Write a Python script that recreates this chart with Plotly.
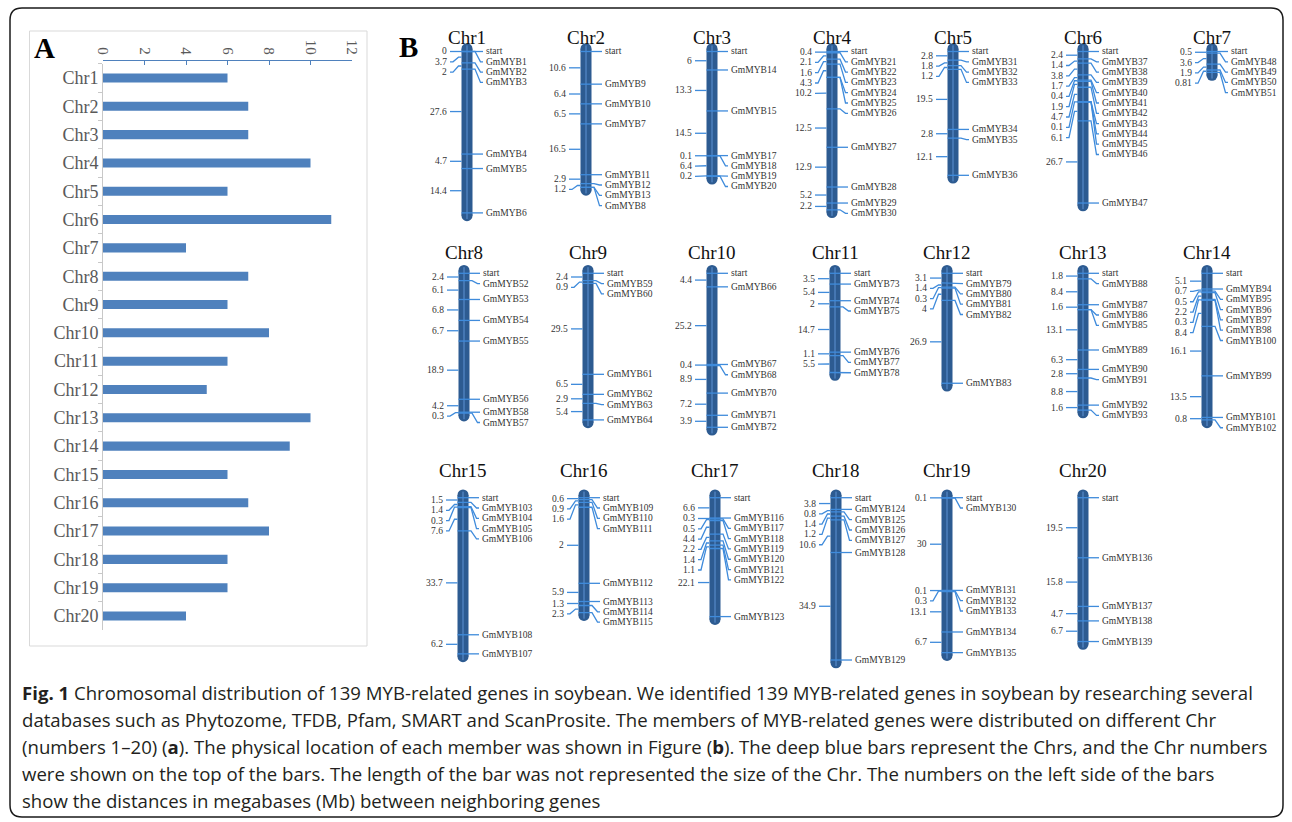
import plotly.graph_objects as go

W, H = 1292, 822

# ---------------- Panel A data ----------------
chr_labels = ["Chr1", "Chr2", "Chr3", "Chr4", "Chr5", "Chr6", "Chr7", "Chr8", "Chr9", "Chr10",
              "Chr11", "Chr12", "Chr13", "Chr14", "Chr15", "Chr16", "Chr17", "Chr18", "Chr19", "Chr20"]
gene_counts = [6, 7, 7, 10, 6, 11, 4, 7, 6, 8, 6, 5, 10, 9, 6, 7, 8, 6, 6, 4]
count_ticks = [0, 2, 4, 6, 8, 10, 12]

# ---------------- Panel B data ----------------
# genes in map order; dist = Mb from previous gene (or start); None = same position, no label
chr1_genes = ["GmMYB1", "GmMYB2", "GmMYB3", "GmMYB4", "GmMYB5", "GmMYB6"]
chr1_dist = [0, 3.7, 2, 27.6, 4.7, 14.4]
chr2_genes = ["GmMYB9", "GmMYB10", "GmMYB7", "GmMYB11", "GmMYB12", "GmMYB13", "GmMYB8"]
chr2_dist = [10.6, 6.4, 6.5, 16.5, 2.9, 1.2, None]
chr3_genes = ["GmMYB14", "GmMYB15", "GmMYB17", "GmMYB18", "GmMYB19", "GmMYB20"]
chr3_dist = [6, 13.3, 14.5, 0.1, 6.4, 0.2]
chr4_genes = ["GmMYB21", "GmMYB22", "GmMYB23", "GmMYB24", "GmMYB25", "GmMYB26", "GmMYB27",
              "GmMYB28", "GmMYB29", "GmMYB30"]
chr4_dist = [0.4, 2.1, 1.6, 4.3, None, 10.2, 12.5, 12.9, 5.2, 2.2]
chr5_genes = ["GmMYB31", "GmMYB32", "GmMYB33", "GmMYB34", "GmMYB35", "GmMYB36"]
chr5_dist = [2.8, 1.8, 1.2, 19.5, 2.8, 12.1]
chr6_genes = ["GmMYB37", "GmMYB38", "GmMYB39", "GmMYB40", "GmMYB41", "GmMYB42", "GmMYB43",
              "GmMYB44", "GmMYB45", "GmMYB46", "GmMYB47"]
chr6_dist = [2.4, 1.4, 3.8, 1.7, 0.4, 1.9, 4.7, 0.1, None, 6.1, 26.7]
chr7_genes = ["GmMYB48", "GmMYB49", "GmMYB50", "GmMYB51"]
chr7_dist = [0.5, 3.6, 1.9, 0.81]
chr8_genes = ["GmMYB52", "GmMYB53", "GmMYB54", "GmMYB55", "GmMYB56", "GmMYB58", "GmMYB57"]
chr8_dist = [2.4, 6.1, 6.8, 6.7, 18.9, 4.2, 0.3]
chr9_genes = ["GmMYB59", "GmMYB60", "GmMYB61", "GmMYB62", "GmMYB63", "GmMYB64"]
chr9_dist = [2.4, 0.9, 29.5, 6.5, 2.9, 5.4]
chr10_genes = ["GmMYB66", "GmMYB67", "GmMYB68", "GmMYB70", "GmMYB71", "GmMYB72"]
chr10_dist = [4.4, 25.2, 0.4, 8.9, 7.2, 3.9]
chr11_genes = ["GmMYB73", "GmMYB74", "GmMYB75", "GmMYB76", "GmMYB77", "GmMYB78"]
chr11_dist = [3.5, 5.4, 2, 14.7, 1.1, 5.5]
chr12_genes = ["GmMYB79", "GmMYB80", "GmMYB81", "GmMYB82", "GmMYB83"]
chr12_dist = [3.1, 1.4, 0.3, 4, 26.9]
chr13_genes = ["GmMYB88", "GmMYB87", "GmMYB86", "GmMYB85", "GmMYB89", "GmMYB90", "GmMYB91",
               "GmMYB92", "GmMYB93"]
chr13_dist = [1.8, 8.4, 1.6, None, 13.1, 6.3, 2.8, 8.8, 1.6]
chr14_genes = ["GmMYB94", "GmMYB95", "GmMYB96", "GmMYB97", "GmMYB98", "GmMYB100", "GmMYB99",
               "GmMYB101", "GmMYB102"]
chr14_dist = [5.1, 0.7, 0.5, 2.2, 0.3, 8.4, 16.1, 13.5, 0.8]
chr15_genes = ["GmMYB103", "GmMYB104", "GmMYB105", "GmMYB106", "GmMYB108", "GmMYB107"]
chr15_dist = [1.5, 1.4, 0.3, 7.6, 33.7, 6.2]
chr16_genes = ["GmMYB109", "GmMYB110", "GmMYB111", "GmMYB112", "GmMYB113", "GmMYB114", "GmMYB115"]
chr16_dist = [0.6, 0.9, 1.6, 24.7, 5.9, 1.3, 2.3]   # gap 4 is drawn ~24.7 Mb but printed "2"
chr16_dist_text = {3: "2"}
chr17_genes = ["GmMYB116", "GmMYB117", "GmMYB118", "GmMYB119", "GmMYB120", "GmMYB121",
               "GmMYB122", "GmMYB123"]
chr17_dist = [6.6, 0.3, 0.5, 4.4, 2.2, 1.4, 1.1, 22.1]
chr18_genes = ["GmMYB124", "GmMYB125", "GmMYB126", "GmMYB127", "GmMYB128", "GmMYB129"]
chr18_dist = [3.8, 0.8, 1.4, 1.2, 10.6, 34.9]
chr19_genes = ["GmMYB130", "GmMYB131", "GmMYB132", "GmMYB133", "GmMYB134", "GmMYB135"]
chr19_dist = [0.1, 30, 0.1, 0.3, 13.1, 6.7]
chr20_genes = ["GmMYB136", "GmMYB137", "GmMYB138", "GmMYB139"]
chr20_dist = [19.5, 15.8, 4.7, 6.7]

all_genes = [chr1_genes, chr2_genes, chr3_genes, chr4_genes, chr5_genes, chr6_genes, chr7_genes,
             chr8_genes, chr9_genes, chr10_genes, chr11_genes, chr12_genes, chr13_genes, chr14_genes,
             chr15_genes, chr16_genes, chr17_genes, chr18_genes, chr19_genes, chr20_genes]
all_dists = [chr1_dist, chr2_dist, chr3_dist, chr4_dist, chr5_dist, chr6_dist, chr7_dist,
             chr8_dist, chr9_dist, chr10_dist, chr11_dist, chr12_dist, chr13_dist, chr14_dist,
             chr15_dist, chr16_dist, chr17_dist, chr18_dist, chr19_dist, chr20_dist]
dist_text_override = {15: chr16_dist_text}

caption_lines = [
    "<b>Fig. 1</b> Chromosomal distribution of 139 MYB-related genes in soybean. We identified 139 MYB-related genes in soybean by researching several",
    "databases such as Phytozome, TFDB, Pfam, SMART and ScanProsite. The members of MYB-related genes were distributed on different Chr",
    "(numbers 1\u201320) (<b>a</b>). The physical location of each member was shown in Figure (<b>b</b>). The deep blue bars represent the Chrs, and the Chr numbers",
    "were shown on the top of the bars. The length of the bar was not represented the size of the Chr. The numbers on the left side of the bars",
    "show the distances in megabases (Mb) between neighboring genes",
]

# ---------------- layout constants (pixels of the target picture) ----------------
chr_x = [467, 586, 712, 832, 953, 1083, 1212,
         464, 588, 712, 835, 947, 1083, 1207,
         463, 584, 715, 836, 947, 1083]
chr_row = [0] * 7 + [1] * 7 + [2] * 6
ROW_START = [51.5, 273.3, 497.7]
ROW_TITLE_Y = [37, 252.5, 470]
ROW_DOMAIN = [(22, 238), (240, 455), (457, 694)]
B_LEFT = 385
S = 3.08            # px per Mb
SPREAD = 10.3       # min label spacing (px)
BAR_HALF = 5.5
CAP = 8.3

# the page shows the paper area 8 px in from the left and 1276 px wide
OFFX, WEFF = 8, 1276

SERIF = "Liberation Serif, Times New Roman, serif"
BAR_COLOR = "#2D5B91"
TICK_COLOR = "#3F8BDB"
TEXT_COLOR = "#333333"


def pyf(px):
    return 1 - px / H


def pxf(px):
    return (px - OFFX) / WEFF


fig = go.Figure()

# ---------------- Panel A ----------------
fig.add_trace(go.Bar(x=gene_counts, y=chr_labels, orientation="h", width=0.32,
                     marker=dict(color="#4F81BD", line=dict(width=0)),
                     xaxis="x", yaxis="y", showlegend=False, hoverinfo="x+y"))

a_top, a_bot = 78 - 14.16, 616 + 14.16
layout = dict(
    xaxis=dict(domain=[pxf(103), pxf(352)], range=[0, 12], side="top", anchor="free",
               position=pyf(60), tickvals=count_ticks, tickangle=90, showgrid=False,
               zeroline=False, showline=True, linecolor="#4F81BD", linewidth=1,
               ticks="inside", ticklen=4, tickcolor="#4F81BD",
               tickfont=dict(family=SERIF, size=15, color="#595959")),
    yaxis=dict(domain=[pyf(a_bot), pyf(a_top)], categoryorder="array", categoryarray=chr_labels,
               autorange="reversed", anchor="x", showgrid=False, zeroline=False,
               showline=True, linecolor="#C8C8C8", ticks="outside", tickson="boundaries",
               ticklen=4, tickcolor="#C8C8C8",
               tickfont=dict(family=SERIF, size=18, color="#595959")),
    xaxis2=dict(domain=[pxf(B_LEFT), 1], range=[B_LEFT, OFFX + WEFF], visible=False,
                anchor="y2", fixedrange=True),
)

shapes = []
annotations = []

# Panel box and outer rounded frame
shapes.append(dict(type="rect", xref="paper", yref="paper", x0=pxf(29.5), x1=pxf(367),
                   y0=pyf(646), y1=pyf(31), line=dict(color="#D9D9D9", width=1), layer="below"))
x0, y0, x1, y1, r = 10, 8, 1283, 817, 12


def P(x, y):
    return f"{pxf(x):.5f},{pyf(y):.5f}"


frame = (f"M {P(x0 + r, y0)} L {P(x1 - r, y0)} Q {P(x1, y0)} {P(x1, y0 + r)} "
         f"L {P(x1, y1 - r)} Q {P(x1, y1)} {P(x1 - r, y1)} L {P(x0 + r, y1)} "
         f"Q {P(x0, y1)} {P(x0, y1 - r)} L {P(x0, y0 + r)} Q {P(x0, y0)} {P(x0 + r, y0)} Z")
shapes.append(dict(type="path", xref="paper", yref="paper", path=frame,
                   line=dict(color="#1a1a1a", width=1.5)))

annotations.append(dict(text="<b>A</b>", xref="paper", yref="paper", x=pxf(44), y=pyf(48),
                        xanchor="center", yanchor="middle", showarrow=False,
                        font=dict(family=SERIF, size=29, color="#000")))
annotations.append(dict(text="<b>B</b>", xref="paper", yref="paper", x=pxf(408), y=pyf(47),
                        xanchor="center", yanchor="middle", showarrow=False,
                        font=dict(family=SERIF, size=29, color="#000")))

# ---------------- Panel B ----------------
for r_i in range(3):
    top_px, bot_px = ROW_DOMAIN[r_i]
    st = ROW_START[r_i]
    layout[f"yaxis{r_i + 2}"] = dict(domain=[pyf(bot_px), pyf(top_px)],
                                     range=[(bot_px - st) / S, (top_px - st) / S],
                                     visible=False, anchor="x2", fixedrange=True)


def spread(vals, gap):
    out, prev = [], -1e9
    for v in vals:
        y = max(v, prev + gap)
        out.append(y)
        prev = y
    return out


D = SPREAD / S
row_lines = {0: ([], []), 1: ([], []), 2: ([], [])}
for ci in range(20):
    genes, dists = all_genes[ci], all_dists[ci]
    bx = chr_x[ci]
    row = chr_row[ci]
    yref = f"y{row + 2}"
    xs, ys = row_lines[row]

    pos, p = [], 0.0
    for d in dists:
        p += d if d is not None else 0
        pos.append(p)
    last = pos[-1]

    # chromosome bar (rounded)
    top_c = -CAP / S + BAR_HALF / S
    bot_c = last + CAP / S - BAR_HALF / S
    rr = BAR_HALF / S
    shapes.append(dict(type="rect", xref="x2", yref=yref, x0=bx - BAR_HALF, x1=bx + BAR_HALF,
                       y0=top_c, y1=bot_c, fillcolor=BAR_COLOR, line=dict(width=0), layer="below"))
    for c in (top_c, bot_c):
        shapes.append(dict(type="circle", xref="x2", yref=yref, x0=bx - BAR_HALF, x1=bx + BAR_HALF,
                           y0=c - rr, y1=c + rr, fillcolor=BAR_COLOR, line=dict(width=0),
                           layer="below"))
    shapes.append(dict(type="line", xref="x2", yref=yref, x0=bx, x1=bx, y0=top_c - rr * 0.6,
                       y1=bot_c + rr * 0.6, line=dict(color="#5F93D3", width=1), layer="below"))

    # title
    annotations.append(dict(text=chr_labels[ci], xref="paper", yref="paper", x=pxf(bx),
                            y=pyf(ROW_TITLE_Y[row]), showarrow=False, xanchor="center",
                            yanchor="middle", font=dict(family=SERIF, size=19, color="#111")))

    # right labels
    names = ["start"] + genes
    gpos = [0.0] + pos
    lab_y = spread(gpos, D)
    for nm, g, ly in zip(names, gpos, lab_y):
        if abs(ly - g) < 1e-6:
            xs += [bx - BAR_HALF, bx + 16, None]
            ys += [g, g, None]
        else:
            xs += [bx - BAR_HALF, bx + 8, bx + 13.5, bx + 16, None]
            ys += [g, g, ly, ly, None]
        annotations.append(dict(text=nm, xref="x2", yref=yref, x=bx + 17, y=ly, showarrow=False,
                                xanchor="left", yanchor="middle",
                                font=dict(family=SERIF, size=9.5, color=TEXT_COLOR)))

    # left distance labels
    want, texts = [], []
    ov = dist_text_override.get(ci, {})
    for i, d in enumerate(dists):
        if d is None:
            continue
        prevp = pos[i - 1] if i > 0 else 0.0
        want.append((prevp + pos[i]) / 2)
        texts.append(ov.get(i, f"{d:g}"))
    lyl = spread(want, D)
    for m, ly, t in zip(want, lyl, texts):
        if abs(ly - m) < 1e-6:
            xs += [bx - 17, bx - BAR_HALF, None]
            ys += [m, m, None]
        else:
            xs += [bx - 17, bx - 14, bx - 8.5, bx - BAR_HALF, None]
            ys += [ly, ly, m, m, None]
        annotations.append(dict(text=t, xref="x2", yref=yref, x=bx - 18, y=ly, showarrow=False,
                                xanchor="right", yanchor="middle",
                                font=dict(family=SERIF, size=9.5, color=TEXT_COLOR)))

for row in range(3):
    xs, ys = row_lines[row]
    fig.add_trace(go.Scatter(x=xs, y=ys, mode="lines", xaxis="x2", yaxis=f"y{row + 2}",
                             line=dict(color=TICK_COLOR, width=1.3), hoverinfo="skip",
                             showlegend=False))

# ---------------- caption ----------------
cap_y = [692, 719, 746, 773, 800]
for txt, yc in zip(caption_lines, cap_y):
    annotations.append(dict(text=txt, xref="paper", yref="paper", x=pxf(20), y=pyf(yc),
                            showarrow=False, xanchor="left", yanchor="middle",
                            font=dict(family="Open Sans, Noto Sans, sans-serif", size=18.6,
                                      color="#231F20")))

layout.update(dict(width=W, height=H, autosize=False, margin=dict(l=0, r=0, t=0, b=0),
                   paper_bgcolor="white", plot_bgcolor="rgba(0,0,0,0)", showlegend=False,
                   shapes=shapes, annotations=annotations, bargap=0.68))
fig.update_layout(**layout)
fig.write_html(
    "out.html",
    config={"displayModeBar": False, "responsive": False},
    post_script=("document.documentElement.style.margin='0';"
                 "document.documentElement.style.padding='0';"
                 "document.documentElement.style.overflow='hidden';"
                 "document.body.style.margin='0';document.body.style.padding='0';"
                 "document.body.style.overflow='hidden';"),
)
